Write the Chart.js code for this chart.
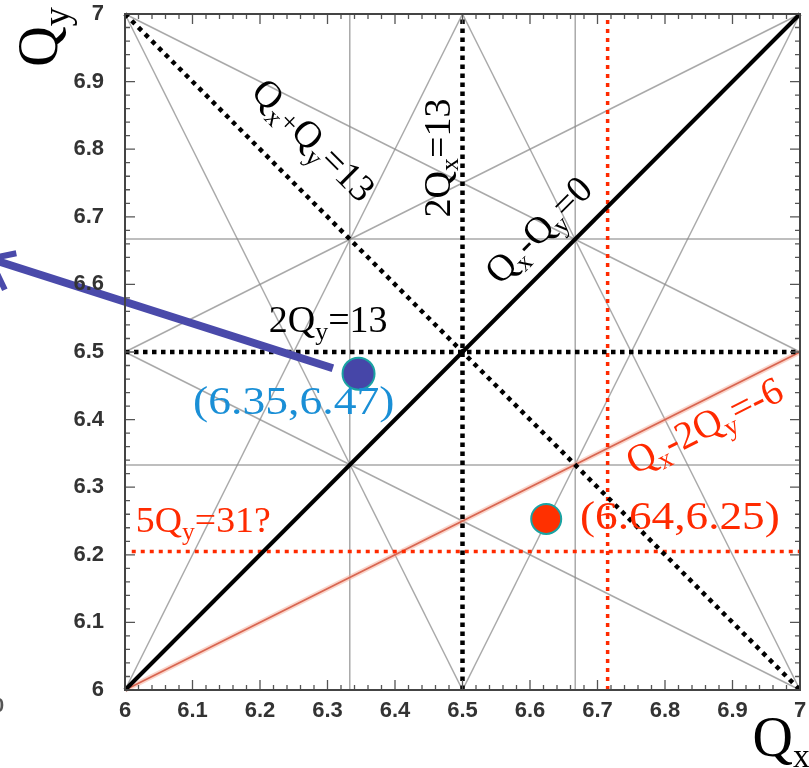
<!DOCTYPE html>
<html>
<head>
<meta charset="utf-8">
<script src="https://cdn.jsdelivr.net/npm/chart.js@4"></script>
<style>
  html, body { margin: 0; padding: 0; background: #fff; overflow: hidden; }
  canvas { display: block; }
</style>
</head>
<body>
<canvas id="tuneChart" width="809" height="768"></canvas>
<script>
// tick labels
const qxTickLabels = ['6', '6.1', '6.2', '6.3', '6.4', '6.5', '6.6', '6.7', '6.8', '6.9', '7'];
const qyTickLabels = ['6', '6.1', '6.2', '6.3', '6.4', '6.5', '6.6', '6.7', '6.8', '6.9', '7'];

// third order resonances (thin gray)
const thirdOrderLines = [
    [[6.333, 6], [6.333, 7]],
    [[6.667, 6], [6.667, 7]],
    [[6, 6.333], [7, 6.333]],
    [[6, 6.667], [7, 6.667]],
    [[6, 6.5], [7, 6]],
    [[6, 7], [7, 6.5]],
    [[6, 6.5], [7, 7]],
    [[6, 7], [6.5, 6]],
    [[6.5, 7], [7, 6]],
    [[6, 6], [6.5, 7]],
    [[6.5, 6], [7, 7]]
];

// main resonances
const diffLine = [[6, 6], [7, 7]];          // Qx-Qy=0
const sumLine = [[6, 7], [7, 6]];           // Qx+Qy=13
const halfQxLine = [[6.5, 6], [6.5, 7]];    // 2Qx=13
const halfQyLine = [[6, 6.5], [7, 6.5]];    // 2Qy=13
const couplingLine = [[6, 6], [7, 6.5]];    // Qx-2Qy=-6
const redVertical = [[6.715, 6], [6.715, 7]];
const fifthQyLine = [[6.01, 6.205], [7, 6.205]]; // 5Qy=31?

// working points
const blueTune = [[6.346, 6.468]];
const redTune = [[6.624, 6.253]];

// arrow leaving the plot to the left
const arrowShaft = [[6.308, 6.476], [5.80, 6.638]];
const arrowHead = [[5.839, 6.646], [5.80, 6.638], [5.822, 6.592]];

const pts = arr => arr.map(p => ({ x: p[0], y: p[1] }));

function lineSet(data, color, width, dash, order) {
    return {
        data: pts(data),
        showLine: true,
        borderColor: color,
        backgroundColor: color,
        borderWidth: width,
        borderDash: dash || [],
        pointRadius: 0,
        order: order,
        clip: false
    };
}

const datasets = [];
thirdOrderLines.forEach(l => datasets.push(lineSet(l, 'rgba(140,140,140,0.75)', 1.5, null, 20)));
datasets.push(lineSet(couplingLine, 'rgba(245,170,150,0.5)', 5, null, 12));
datasets.push(lineSet(couplingLine, '#d86550', 1.8, null, 11));
datasets.push(lineSet(redVertical, '#ff2a00', 3.5, [4, 5], 8));
datasets.push(lineSet(fifthQyLine, '#ff2a00', 3.5, [4, 5], 8));
datasets.push(lineSet(halfQxLine, '#000', 4.5, [4.5, 4.5], 6));
datasets.push(lineSet(halfQyLine, '#000', 4.5, [4.5, 4.5], 6));
datasets.push(lineSet(sumLine, '#000', 4.5, [4.5, 5], 6));
datasets.push(lineSet(diffLine, '#000', 4, null, 5));
datasets.push(lineSet(arrowShaft, '#4a4aaa', 8, null, 3));
datasets.push(lineSet(arrowHead, '#4a4aaa', 6, null, 3));
datasets.push({
    data: pts(blueTune), showLine: false, pointRadius: 16, pointHoverRadius: 16,
    backgroundColor: '#4646a8', borderColor: '#1aa3a3', borderWidth: 2, order: 1
});
datasets.push({
    data: pts(redTune), showLine: false, pointRadius: 15, pointHoverRadius: 15,
    backgroundColor: '#ff3000', borderColor: '#1aa3a3', borderWidth: 2, order: 1
});

// text annotations: pieces are [text, kind] with kind '' normal, 's' subscript, 'p' small sign
const annotations = [
    { at: [6.277, 6.811], rot: 45, size: 38, color: '#000',
      pieces: [['Q', ''], ['x', 's'], ['+', 'p'], ['Q', ''], ['y', 's'], ['=13', '']] },
    { at: [6.467, 6.787], rot: -90, size: 38, color: '#000',
      pieces: [['2Q', ''], ['x', 's'], ['=13', '']] },
    { at: [6.615, 6.678], rot: -45, size: 38, color: '#000',
      pieces: [['Q', ''], ['x', 's'], ['-Q', ''], ['y', 's'], ['=0', '']] },
    { at: [6.301, 6.544], rot: 0, size: 38, color: '#000',
      pieces: [['2Q', ''], ['y', 's'], ['=13', '']] },
    { at: [6.25, 6.424], rot: 0, size: 40, color: '#1a8fd6', sx: 1.14,
      pieces: [['(6.35,6.47)', '']] },
    { at: [6.86, 6.388], rot: -26.6, size: 39, color: '#ff2a00',
      pieces: [['Q', ''], ['x', 's'], ['-2Q', ''], ['y', 's'], ['=-6', '']] },
    { at: [6.822, 6.254], rot: 0, size: 39, color: '#ff2a00', sx: 1.16,
      pieces: [['(6.64,6.25)', '']] },
    { at: [6.116, 6.247], rot: 0, size: 36, color: '#ff2a00', sx: 1.05,
      pieces: [['5Q', ''], ['y', 's'], ['=31?', '']] },
    { at: [5.877, 6.966], rot: -90, size: 56, color: '#000',
      pieces: [['Q', ''], ['y', 's']] },
    { at: [6.972, 5.924], rot: 0, size: 56, color: '#000', sub: 0.6,
      pieces: [['Q', ''], ['x', 's']] }
];

const serif = '"Liberation Serif", "DejaVu Serif", serif';
const tickFontCss = 'bold 22px "Liberation Sans", Arial, sans-serif';

const frameTicks = {
    id: 'frameTicks',
    afterDatasetsDraw(chart) {
        const { ctx, chartArea: a, scales: { x, y } } = chart;
        ctx.save();
        ctx.strokeStyle = '#555';
        ctx.lineWidth = 1.3;
        ctx.beginPath();
        for (let i = 0; i <= 50; i++) {
            const v = 6 + i * 0.02;
            const len = i % 5 === 0 ? 10 : 5;
            const px = x.getPixelForValue(v), py = y.getPixelForValue(v);
            ctx.moveTo(px, a.bottom); ctx.lineTo(px, a.bottom - len);
            ctx.moveTo(px, a.top); ctx.lineTo(px, a.top + len);
            ctx.moveTo(a.left, py); ctx.lineTo(a.left + len, py);
            ctx.moveTo(a.right, py); ctx.lineTo(a.right - len, py);
        }
        ctx.stroke();
        ctx.lineWidth = 2;
        ctx.strokeStyle = '#444';
        ctx.strokeRect(a.left, a.top, a.right - a.left, a.bottom - a.top);

        // tick labels from the scales' own tick values
        ctx.font = tickFontCss;
        ctx.fillStyle = '#333';
        ctx.textBaseline = 'middle';
        ctx.textAlign = 'center';
        x.ticks.forEach((t, i) => {
            ctx.fillText(qxTickLabels[i], x.getPixelForValue(t.value), a.bottom + 21);
        });
        ctx.textAlign = 'right';
        y.ticks.forEach((t, i) => {
            ctx.fillText(qyTickLabels[i], a.left - 21, y.getPixelForValue(t.value));
        });
        ctx.restore();
    }
};

const textLabels = {
    id: 'textLabels',
    afterDraw(chart) {
        const { ctx, scales: { x, y } } = chart;
        annotations.forEach(an => {
            const size = an.size;
            const subScale = an.sub || 0.68;
            const fontFor = k => (k === 's' ? size * subScale : k === 'p' ? size * 0.75 : size) + 'px ' + serif;
            const offFor = k => (k === 's' ? size * 0.3 : k === 'p' ? size * 0.1 : 0);
            let total = 0;
            const widths = an.pieces.map(p => {
                ctx.font = fontFor(p[1]);
                const w = ctx.measureText(p[0]).width;
                total += w;
                return w;
            });
            ctx.save();
            ctx.translate(x.getPixelForValue(an.at[0]), y.getPixelForValue(an.at[1]));
            ctx.rotate(an.rot * Math.PI / 180);
            ctx.scale(an.sx || 1, 1);
            ctx.fillStyle = an.color;
            ctx.textBaseline = 'middle';
            ctx.textAlign = 'left';
            let cx = -total / 2;
            an.pieces.forEach((p, i) => {
                ctx.font = fontFor(p[1]);
                ctx.fillText(p[0], cx, offFor(p[1]));
                cx += widths[i];
            });
            ctx.restore();
        });
        // cut glyph at the left edge of the picture
        ctx.save();
        ctx.font = 'bold 20px "Liberation Sans", sans-serif';
        ctx.fillStyle = '#555';
        ctx.textBaseline = 'middle';
        ctx.fillText('0', -7, y.getPixelForValue(5.976));
        ctx.restore();
    }
};

new Chart(document.getElementById('tuneChart'), {
    type: 'scatter',
    data: { datasets: datasets },
    options: {
        responsive: false,
        animation: false,
        layout: { autoPadding: false, padding: { top: 14, right: 9, left: 0, bottom: 0 } },
        plugins: {
            legend: { display: false },
            tooltip: { enabled: false }
        },
        scales: {
            x: {
                type: 'linear', min: 6, max: 7,
                grid: { display: false },
                border: { display: false },
                ticks: { stepSize: 0.1, display: false },
                afterFit: s => { s.height = 78; }
            },
            y: {
                type: 'linear', min: 6, max: 7,
                grid: { display: false },
                border: { display: false },
                ticks: { stepSize: 0.1, display: false },
                afterFit: s => { s.width = 125; }
            }
        }
    },
    plugins: [frameTicks, textLabels]
});
</script>
</body>
</html>
